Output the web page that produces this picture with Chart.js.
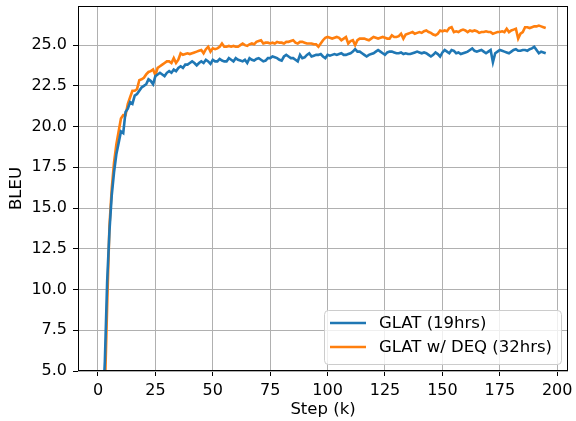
<!DOCTYPE html>
<html>
<head>
<meta charset="utf-8">
<script src="https://cdn.jsdelivr.net/npm/chart.js@4.4.0/dist/chart.umd.min.js"></script>
<style>
  html, body { margin: 0; padding: 0; background: #fff; }
  canvas { display: block; }
</style>
</head>
<body>
<canvas id="chart" width="576" height="421"></canvas>
<script>
// BLEU per training step (k), one value per 1k steps, steps 1..195
const glat = [
  0.3, 2.5, 5.6, 10.5, 13.6, 15.8, 17.2, 18.3, 19.0, 19.7,
  19.6, 20.9, 21.1, 21.5, 21.4, 21.9, 22.0, 22.2, 22.4, 22.5,
  22.6, 22.9, 22.8, 22.6, 23.1, 23.2, 23.3, 23.2, 23.1, 23.3,
  23.4, 23.3, 23.5, 23.4, 23.6, 23.7, 23.6, 23.8, 23.8, 23.9,
  24.0, 23.9, 23.75, 23.9, 24.0, 23.9, 24.1, 24.0, 23.85, 24.1,
  24.0, 24.0, 24.15, 24.05, 24.0, 24.0, 24.2, 24.1, 24.0, 24.2,
  24.1, 24.05, 24.0, 24.1, 23.9, 24.2, 24.1, 24.05, 24.15, 24.2,
  24.1, 24.0, 24.05, 24.2, 24.2, 24.3, 24.25, 24.2, 24.1, 24.05,
  24.3, 24.4, 24.3, 24.2, 24.2, 24.1, 24.0, 24.4, 24.2, 24.25,
  24.4, 24.5, 24.3, 24.35, 24.4, 24.4, 24.45, 24.3, 24.2, 24.4,
  24.35, 24.4, 24.45, 24.4, 24.45, 24.5, 24.4, 24.4, 24.45, 24.5,
  24.6, 24.75, 24.6, 24.6, 24.5, 24.4, 24.3, 24.4, 24.45, 24.5,
  24.6, 24.7, 24.6, 24.5, 24.4, 24.55, 24.6, 24.6, 24.55, 24.5,
  24.5, 24.55, 24.45, 24.5, 24.45, 24.45, 24.5, 24.55, 24.6, 24.55,
  24.5, 24.55, 24.5, 24.4, 24.3, 24.4, 24.55, 24.45, 24.3, 24.55,
  24.7, 24.6, 24.5, 24.7, 24.65, 24.5, 24.55, 24.45, 24.5, 24.55,
  24.6, 24.7, 24.8, 24.65, 24.6, 24.65, 24.7, 24.6, 24.5, 24.6,
  24.7, 23.95, 24.5, 24.6, 24.7, 24.65, 24.6, 24.55, 24.5, 24.6,
  24.7, 24.75, 24.65, 24.65, 24.7, 24.7, 24.65, 24.75, 24.8, 24.9,
  24.7, 24.5, 24.6, 24.55, 24.5
];
const glatDeq = [
  0.1, 1.0, 3.8, 9.0, 13.9, 16.2, 17.8, 18.9, 19.7, 20.5,
  20.7, 20.7, 21.4, 21.8, 22.2, 22.2, 22.3, 22.85, 22.9, 23.0,
  23.2, 23.35, 23.4, 23.5, 23.15, 23.6, 23.7, 23.8, 23.9, 24.0,
  24.0, 23.9, 24.2, 23.9, 24.1, 24.5, 24.4, 24.45, 24.5, 24.45,
  24.5, 24.55, 24.6, 24.65, 24.7, 24.5, 24.75, 24.9, 24.6, 24.8,
  24.75, 24.8, 24.9, 25.1, 24.9, 24.9, 24.95, 24.9, 24.95, 24.9,
  24.9, 25.0, 25.1, 25.0, 24.95, 25.05, 25.1, 25.05, 25.2, 25.25,
  25.3, 25.1, 25.15, 25.15, 25.1, 25.15, 25.1, 25.2, 25.15, 25.15,
  25.1, 25.2, 25.2, 25.25, 25.3, 25.15, 25.1, 25.2, 25.2, 25.15,
  25.1, 25.1, 25.1, 25.05, 25.05, 24.9, 25.1, 25.3, 25.45, 25.5,
  25.45, 25.4, 25.45, 25.5, 25.45, 25.3, 25.4, 25.5, 25.1, 25.25,
  25.3, 25.0, 25.3, 25.4, 25.4, 25.4, 25.35, 25.3, 25.4, 25.5,
  25.45, 25.4, 25.45, 25.5, 25.45, 25.4, 25.4, 25.6, 25.5, 25.5,
  25.55, 25.7, 25.4, 25.65, 25.7, 25.75, 25.8, 25.7, 25.75, 25.8,
  25.75, 25.85, 25.9, 25.8, 25.75, 25.65, 25.6, 25.7, 25.9, 25.85,
  25.9, 25.85, 26.05, 26.1, 25.8, 25.85, 25.8, 25.9, 25.95, 25.9,
  25.8, 25.9, 25.85, 25.9, 25.85, 25.75, 25.8, 25.8, 25.85, 25.8,
  25.8, 25.7, 25.75, 25.8, 25.8, 25.85, 25.8, 26.0, 25.8, 25.9,
  25.95, 26.0, 25.4, 25.7, 25.8, 26.1, 26.1, 26.05, 26.1, 26.15,
  26.15, 26.2, 26.15, 26.1, 26.05
];
const steps = glat.map((_, i) => i + 1);
const seriesNames = ['GLAT (19hrs)', 'GLAT w/ DEQ (32hrs)'];
const seriesColors = ['#1f77b4', '#ff7f0e'];
const xTicks = [0, 25, 50, 75, 100, 125, 150, 175, 200];
const yTicks = [5, 7.5, 10, 12.5, 15, 17.5, 20, 22.5, 25];

const FONT = 'DejaVu Sans';
const TICK_FS = 16;
const LABEL_FS = 16.5;

// matplotlib-style frame around the plot area
const framePlugin = {
  id: 'frame',
  afterDatasetsDraw(chart) {
    const { ctx, chartArea: a } = chart;
    ctx.save();
    ctx.strokeStyle = '#000';
    ctx.lineWidth = 1;
    ctx.strokeRect(a.left + 0.5, a.top + 0.5, a.right - a.left - 1, a.bottom - a.top - 1);
    ctx.restore();
  }
};

// legend box in the lower right of the axes
const legendPlugin = {
  id: 'boxLegend',
  afterDraw(chart) {
    const { ctx } = chart;
    const x0 = 324, y0 = 310, w = 237, h = 54;
    ctx.save();
    ctx.fillStyle = 'rgba(255,255,255,0.8)';
    ctx.strokeStyle = '#cccccc';
    ctx.lineWidth = 1;
    ctx.beginPath();
    ctx.roundRect(x0 + 0.5, y0 + 0.5, w, h, 4);
    ctx.fill();
    ctx.stroke();
    ctx.font = `${LABEL_FS}px "${FONT}"`;
    ctx.textBaseline = 'middle';
    chart.data.datasets.forEach((ds, i) => {
      const y = y0 + 13 + i * 24;
      ctx.strokeStyle = ds.borderColor;
      ctx.lineWidth = 2.6;
      ctx.beginPath();
      ctx.moveTo(x0 + 6, y);
      ctx.lineTo(x0 + 42, y);
      ctx.stroke();
      ctx.fillStyle = '#000';
      ctx.fillText(ds.label, x0 + 55, y + 1);
    });
    ctx.restore();
  }
};

new Chart(document.getElementById('chart'), {
  type: 'line',
  data: {
    datasets: [glat, glatDeq].map((vals, i) => ({
      label: seriesNames[i],
      data: vals.map((v, j) => ({ x: steps[j], y: v })),
      borderColor: seriesColors[i],
      backgroundColor: seriesColors[i],
      borderWidth: 2.6,
      pointRadius: 0,
      tension: 0
    }))
  },
  options: {
    responsive: false,
    animation: false,
    devicePixelRatio: 1,
    layout: { padding: { left: 0, top: 6, right: 8, bottom: 0 } },
    plugins: { legend: { display: false }, tooltip: { enabled: false } },
    scales: {
      x: {
        type: 'linear',
        min: -8.7,
        max: 204.7,
        afterBuildTicks: s => { s.ticks = xTicks.map(v => ({ value: v })); },
        afterFit: s => { s.height = 50; s.paddingLeft = 0; s.paddingRight = 0; },
        grid: { color: '#b0b0b0', lineWidth: 1, tickColor: '#000', tickLength: 5 },
        border: { display: false },
        ticks: { color: '#000', font: { family: FONT, size: TICK_FS }, padding: 5, maxRotation: 0 },
        title: { display: true, text: 'Step (k)', color: '#000', font: { family: FONT, size: LABEL_FS }, padding: { top: 0, bottom: 1 } }
      },
      y: {
        min: 5,
        max: 27.4,
        afterBuildTicks: s => { s.ticks = yTicks.map(v => ({ value: v })); },
        afterFit: s => { s.width = 78; s.paddingTop = 0; s.paddingBottom = 0; },
        grid: { color: '#b0b0b0', lineWidth: 1, tickColor: '#000', tickLength: 5 },
        border: { display: false },
        ticks: { color: '#000', font: { family: FONT, size: TICK_FS }, padding: 6, callback: v => v.toFixed(1) },
        title: { display: true, text: 'BLEU', color: '#000', font: { family: FONT, size: LABEL_FS }, padding: { top: 7, bottom: 4 } }
      }
    }
  },
  plugins: [framePlugin, legendPlugin]
});
</script>
</body>
</html>
